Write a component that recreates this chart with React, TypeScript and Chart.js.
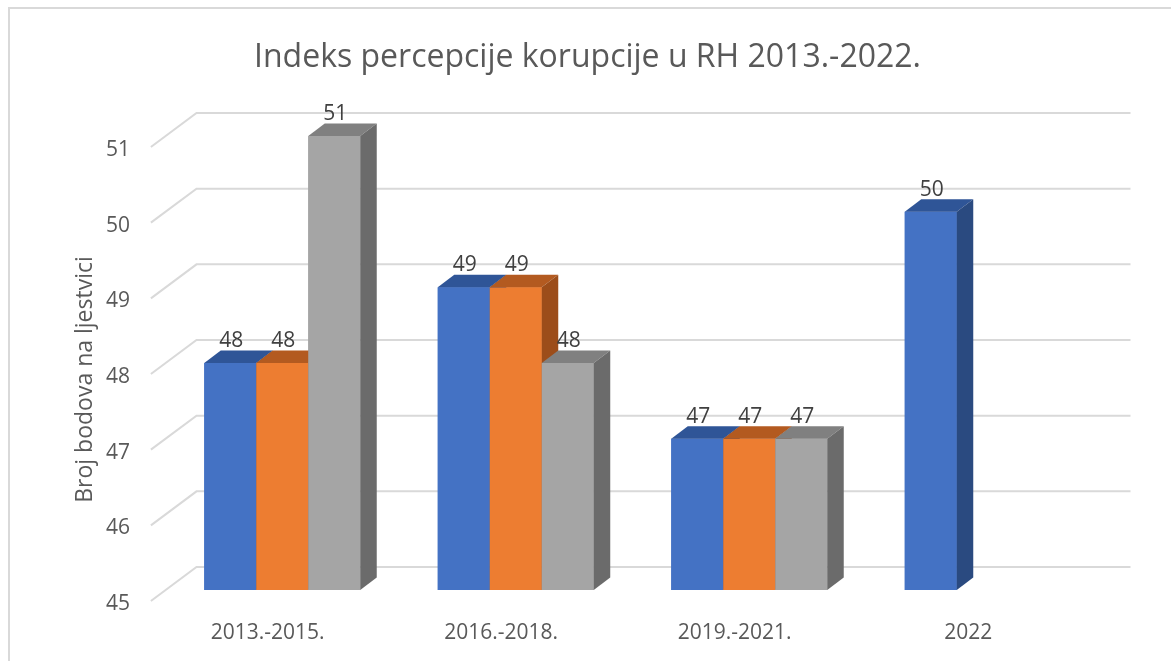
import React, { useEffect, useRef } from "react";
import { Chart, registerables } from "chart.js";

Chart.register(...registerables);

const categories = ["2013.-2015.", "2016.-2018.", "2019.-2021.", "2022"];
const seriesBlue = [48, 49, 47, 50];
const seriesOrange = [48, 49, 47, null];
const seriesGray = [51, 48, 47, null];
const yMin = 45;
const yMax = 51;

const titleText = "Indeks percepcije korupcije u RH 2013.-2022.";
const yTitleText = "Broj bodova na ljestvici";

const FONT = "'Open Sans', 'Noto Sans', sans-serif";
const TEXT = "#595959";
const GRID = "#d9d9d9";

// 3D geometry offsets (relative to bar front plane)
const FLOOR_DX = -14.6;
const FLOOR_DY = 11;
const WALL_DX = 31;
const WALL_DY = -23;
const DEPTH_DX = 16.5;
const DEPTH_DY = -12.5;

const faceColors = [
  { front: "#4472C4", top: "#2F5597", side: "#2A4A80" },
  { front: "#ED7D31", top: "#B35A20", side: "#9C4D1A" },
  { front: "#A5A5A5", top: "#808080", side: "#6B6B6B" },
];

const threeD = {
  id: "threeD",
  beforeDraw(chart: any) {
    const ctx = chart.ctx;
    ctx.save();
    ctx.fillStyle = "#ffffff";
    ctx.fillRect(0, 0, chart.width, chart.height);
    ctx.fillStyle = GRID;
    ctx.fillRect(8, 7, 2, chart.height);
    ctx.fillRect(8, 7, chart.width, 2);
    ctx.fillStyle = TEXT;
    ctx.font = `32px ${FONT}`;
    ctx.textAlign = "center";
    ctx.textBaseline = "alphabetic";
    ctx.fillText(titleText, chart.width / 2 + 2, 67);
    ctx.restore();
  },
  beforeDatasetsDraw(chart: any) {
    const ctx = chart.ctx;
    const { left, right, bottom, top } = chart.chartArea;
    const yScale = chart.scales.y;
    const xScale = chart.scales.x;
    ctx.save();
    ctx.strokeStyle = GRID;
    ctx.lineWidth = 2;
    yScale.ticks.forEach((t: any) => {
      const y = yScale.getPixelForValue(t.value);
      ctx.beginPath();
      ctx.moveTo(left + FLOOR_DX, y + FLOOR_DY);
      ctx.lineTo(left + WALL_DX, y + WALL_DY);
      ctx.lineTo(right + WALL_DX, y + WALL_DY);
      ctx.stroke();
    });
    ctx.fillStyle = TEXT;
    ctx.font = `21px ${FONT}`;
    ctx.textAlign = "right";
    ctx.textBaseline = "alphabetic";
    yScale.ticks.forEach((t: any) => {
      const y = yScale.getPixelForValue(t.value);
      ctx.fillText(String(t.value), left + FLOOR_DX - 21, y + FLOOR_DY + 9);
    });
    ctx.textAlign = "center";
    chart.data.labels.forEach((lab: string, i: number) => {
      const x = xScale.getPixelForValue(i);
      ctx.fillText(lab, x + FLOOR_DX, bottom + 49);
    });
    ctx.save();
    ctx.font = `23px ${FONT}`;
    ctx.translate(91.5, (top + bottom) / 2 + 16.5);
    ctx.rotate(-Math.PI / 2);
    ctx.textAlign = "center";
    ctx.fillText(yTitleText, 0, 0);
    ctx.restore();
    ctx.restore();
  },
  afterDatasetsDraw(chart: any) {
    const ctx = chart.ctx;
    const bottomPx = chart.scales.y.getPixelForValue(yMin);
    const bars: any[] = [];
    chart.data.datasets.forEach((ds: any, di: number) => {
      const meta = chart.getDatasetMeta(di);
      meta.data.forEach((el: any, j: number) => {
        const v = ds.data[j];
        if (v === null || v === undefined) return;
        const p = el.getProps(["x", "y", "base", "width"], true);
        bars.push({ ...p, di, v });
      });
    });
    bars.sort((a, b) => a.x - b.x);
    ctx.save();
    bars.forEach((b) => {
      const c = faceColors[b.di];
      const l = b.x - b.width / 2;
      const r = b.x + b.width / 2;
      const t = b.y;
      const bt = Math.min(b.base, bottomPx);
      ctx.fillStyle = c.front;
      ctx.fillRect(l, t, r - l, bt - t);
      ctx.fillStyle = c.top;
      ctx.beginPath();
      ctx.moveTo(l, t);
      ctx.lineTo(r, t);
      ctx.lineTo(r + DEPTH_DX, t + DEPTH_DY);
      ctx.lineTo(l + DEPTH_DX, t + DEPTH_DY);
      ctx.closePath();
      ctx.fill();
      ctx.fillStyle = c.side;
      ctx.beginPath();
      ctx.moveTo(r, t);
      ctx.lineTo(r + DEPTH_DX, t + DEPTH_DY);
      ctx.lineTo(r + DEPTH_DX, bt + DEPTH_DY);
      ctx.lineTo(r, bt);
      ctx.closePath();
      ctx.fill();
    });
    ctx.fillStyle = "#404040";
    ctx.font = `21px ${FONT}`;
    ctx.textAlign = "center";
    ctx.textBaseline = "alphabetic";
    bars.forEach((b) => {
      ctx.fillText(String(b.v), b.x + 1, b.y - 16);
    });
    ctx.restore();
  },
};

export default function App() {
  const ref = useRef<HTMLCanvasElement>(null);
  useEffect(() => {
    if (!ref.current) return;
    const chart = new Chart(ref.current, {
      type: "bar",
      data: {
        labels: categories,
        datasets: [
          { data: seriesBlue, backgroundColor: faceColors[0].front, base: yMin },
          { data: seriesOrange, backgroundColor: faceColors[1].front, base: yMin },
          { data: seriesGray, backgroundColor: faceColors[2].front, base: yMin },
        ],
      },
      options: {
        responsive: false,
        animation: false,
        layout: { padding: { left: 165.5, right: 71.5, top: 136, bottom: 71 } },
        datasets: { bar: { categoryPercentage: 0.668, barPercentage: 1 } },
        plugins: {
          legend: { display: false },
          title: { display: false },
          tooltip: { enabled: false },
        },
        scales: {
          x: { display: false, grid: { display: false } },
          y: { display: false, min: yMin, max: yMax, ticks: { stepSize: 1 } },
        },
      } as any,
      plugins: [threeD],
    });
    return () => chart.destroy();
  }, []);
  return (
    <div style={{ position: "fixed", left: 0, top: 0, width: 1171, height: 661, background: "#fff" }}>
      <canvas ref={ref} width={1171} height={661} style={{ display: "block" }} />
    </div>
  );
}
